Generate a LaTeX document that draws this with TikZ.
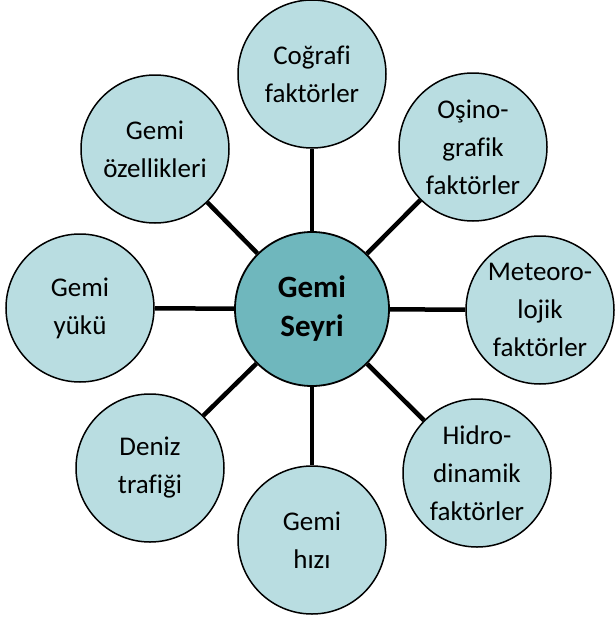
\documentclass[tikz,border=0pt]{standalone}
\usepackage{fontspec}
\setmainfont{Carlito}[Ligatures={NoCommon}]
\definecolor{outerfill}{RGB}{185,221,225}
\definecolor{centerfill}{RGB}{111,183,189}
\tikzset{
  outer/.style={circle, draw=black, line width=1.5pt, fill=outerfill, minimum size=148pt, inner sep=0pt, align=center, font=\fontsize{27}{38}\selectfont},
  hub/.style={circle, draw=black, line width=1.8pt, fill=centerfill, minimum size=154pt, inner sep=0pt, align=center, font=\fontsize{31}{39}\selectfont\bfseries},
  spoke/.style={line width=4.5pt, black}
}
\begin{document}
\begin{tikzpicture}[x=1pt,y=-1pt]
\useasboundingbox (0,0) rectangle (615,621);
\node[hub] (c) at (312,309) {Gemi\\Seyri};
\node[outer] (n) at (312,74) {Coğrafi\\faktörler};
\node[outer] (ne) at (473,147) {Oşino-\\grafik\\faktörler};
\node[outer] (e) at (540,310) {Meteoro-\\lojik\\faktörler};
\node[outer] (se) at (477,473) {Hidro-\\dinamik\\faktörler};
\node[outer] (s) at (312,540) {Gemi\\hızı};
\node[outer] (sw) at (150,468) {Deniz\\trafiği};
\node[outer] (w) at (80,308) {Gemi\\yükü};
\node[outer] (nw) at (155,149) {Gemi\\özellikleri};
\foreach \t in {n,ne,e,se,s,sw,w,nw}
  \draw[spoke] (c) -- (\t);
\end{tikzpicture}
\end{document}
